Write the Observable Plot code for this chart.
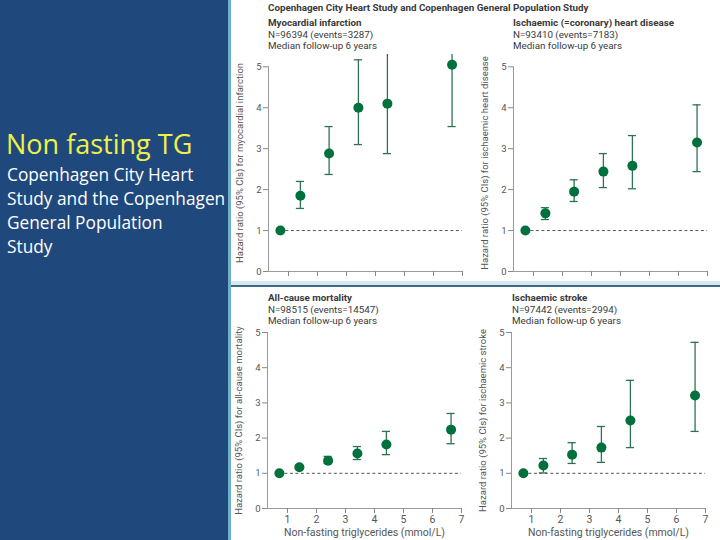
<!DOCTYPE html>
<html>
<head>
<meta charset="utf-8">
<script src="https://cdn.jsdelivr.net/npm/d3@7"></script>
<script src="https://cdn.jsdelivr.net/npm/@observablehq/plot@0.6"></script>
<style>
  html, body { margin: 0; padding: 0; }
  body { width: 720px; height: 540px; position: relative; overflow: hidden; background: #fff; font-family: Roboto, "Liberation Sans", sans-serif; }
  #side { position: absolute; left: 0; top: 0; width: 228px; height: 540px; background: #1f497d; font-family: "Open Sans", sans-serif; }
  #side .big { position: absolute; left: 6px; top: 124px; font-size: 27px; color: #f0f048; line-height: 40px; white-space: nowrap; }
  #side .small { position: absolute; left: 7px; top: 163px; font-size: 17.3px; color: #fff; line-height: 24px; white-space: nowrap; }
  #vline { position: absolute; left: 228px; top: 0; width: 3px; height: 540px; background: #6fb0c4; }
  #hband { position: absolute; left: 231px; top: 281px; width: 489px; height: 4px; background: #d5e8f3; }
  #hline { position: absolute; left: 231px; top: 285px; width: 489px; height: 2px; background: #3d6b80; }
  .hdr { position: absolute; font-size: 9.8px; line-height: 11.5px; color: #3a3a3a; white-space: nowrap; }
  .hdr b { font-weight: 700; }
  .chart { position: absolute; }
</style>
</head>
<body>
<div id="side">
  <div class="big">Non fasting TG</div>
  <div class="small">Copenhagen City Heart<br>Study and the Copenhagen<br>General Population<br>Study</div>
</div>
<div id="vline"></div>
<div id="hband"></div>
<div id="hline"></div>

<div class="hdr" style="left:268px; top:2px;"><b>Copenhagen City Heart Study and Copenhagen General Population Study</b></div>
<div class="hdr" style="left:268px; top:17px;"><b>Myocardial infarction</b><br>N=96394 (events=3287)<br>Median follow-up 6 years</div>
<div class="hdr" style="left:513px; top:17px;"><b>Ischaemic (=coronary) heart disease</b><br>N=93410 (events=7183)<br>Median follow-up 6 years</div>
<div class="hdr" style="left:268px; top:292px;"><b>All-cause mortality</b><br>N=98515 (events=14547)<br>Median follow-up 6 years</div>
<div class="hdr" style="left:512px; top:292px;"><b>Ischaemic stroke</b><br>N=97442 (events=2994)<br>Median follow-up 6 years</div>

<div id="c1" class="chart" style="left:228px; top:50px;"></div>
<div id="c2" class="chart" style="left:473px; top:50px;"></div>
<div id="c3" class="chart" style="left:227px; top:325px;"></div>
<div id="c4" class="chart" style="left:471px; top:325px;"></div>

<script>
// Non-fasting triglyceride group midpoints (mmol/L)
const tgGroups = [0.72, 1.41, 2.4, 3.41, 4.41, 6.64];
const xTicks = [1, 2, 3, 4, 5, 6, 7];
const yTicks = [0, 1, 2, 3, 4, 5];

// Myocardial infarction
const miHR = [1, 1.85, 2.88, 4.0, 4.1, 5.05];
const miLo = [1, 1.54, 2.37, 3.1, 2.88, 3.54];
const miHi = [1, 2.2, 3.54, 5.17, 6.0, 7.4];

// Ischaemic heart disease
const ihdHR = [1, 1.42, 1.95, 2.44, 2.58, 3.15];
const ihdLo = [1, 1.27, 1.71, 2.05, 2.02, 2.44];
const ihdHi = [1, 1.56, 2.24, 2.88, 3.32, 4.07];

// All-cause mortality
const acmHR = [1, 1.17, 1.36, 1.56, 1.82, 2.24];
const acmLo = [1, 1.12, 1.28, 1.39, 1.53, 1.84];
const acmHi = [1, 1.23, 1.48, 1.76, 2.19, 2.7];

// Ischaemic stroke
const isHR = [1, 1.22, 1.53, 1.73, 2.5, 3.21];
const isLo = [1, 1.01, 1.28, 1.31, 1.73, 2.19];
const isHi = [1, 1.42, 1.87, 2.33, 3.64, 4.72];

const GREEN = "#00703c";
const BAR = "#2d7353";
const xDomain = [0.31, 7];

function panel({hr, lo, hi, ylabel, top}) {
  const data = tgGroups.map((x, i) => ({x, hr: hr[i], lo: lo[i], hi: hi[i]}));
  const err = data.filter(d => d.hi > d.lo);
  const yMax = top ? 5.3 : 5;
  const capHalf = 0.14;
  return Plot.plot({
    width: 242,
    height: top ? 235 : 215,
    marginLeft: 40,
    marginRight: 8,
    marginTop: top ? 4 : 7,
    marginBottom: top ? 14 : 32,
    x: {domain: xDomain},
    y: {domain: [0, yMax]},
    style: {fontFamily: "Roboto, 'Liberation Sans', sans-serif", fontSize: "9.5px", color: "#555", background: "transparent", overflow: "visible"},
    marks: [
      Plot.ruleY([0], {x1: xDomain[0], x2: xDomain[1], stroke: "#9a9a9a"}),
      Plot.ruleX([xDomain[0]], {y1: 0, y2: 5, stroke: "#9a9a9a"}),
      Plot.ruleY([1], {x1: tgGroups[0], x2: xDomain[1], stroke: "#555", strokeDasharray: "3,2.5", strokeWidth: 1}),
      Plot.ruleX(err, {x: "x", y1: "lo", y2: "hi", stroke: BAR, strokeWidth: 1.3, clip: true}),
      Plot.ruleY(err, {y: "hi", x1: d => d.x - capHalf, x2: d => d.x + capHalf, stroke: BAR, strokeWidth: 1.3, clip: true}),
      Plot.ruleY(err, {y: "lo", x1: d => d.x - capHalf, x2: d => d.x + capHalf, stroke: BAR, strokeWidth: 1.3, clip: true}),
      Plot.dot(data, {x: "x", y: "hr", r: 5, fill: GREEN, stroke: "none"}),
      Plot.axisY({ticks: yTicks, tickSize: 5, tickPadding: 2, stroke: "#888", tickFormat: d => String(d),
        label: ylabel, labelAnchor: "center", labelOffset: 32, labelArrow: false, fontSize: 9.5}),
      Plot.axisX({ticks: xTicks, tickSize: 5, stroke: "#888",
        tickFormat: top ? () => "" : d => String(d), tickPadding: 2, fontSize: 10.5,
        label: top ? null : "Non-fasting triglycerides (mmol/L)", labelAnchor: "center", labelOffset: 27, labelArrow: false})
    ]
  });
}

document.getElementById("c1").append(panel({hr: miHR, lo: miLo, hi: miHi, ylabel: "Hazard ratio (95% CIs) for myocardial infarction", top: true}));
document.getElementById("c2").append(panel({hr: ihdHR, lo: ihdLo, hi: ihdHi, ylabel: "Hazard ratio (95% CIs) for ischaemic heart disease", top: true}));
document.getElementById("c3").append(panel({hr: acmHR, lo: acmLo, hi: acmHi, ylabel: "Hazard ratio (95% CIs) for all-cause mortality", top: false}));
document.getElementById("c4").append(panel({hr: isHR, lo: isLo, hi: isHi, ylabel: "Hazard ratio (95% CIs) for ischaemic stroke", top: false}));
</script>
</body>
</html>
